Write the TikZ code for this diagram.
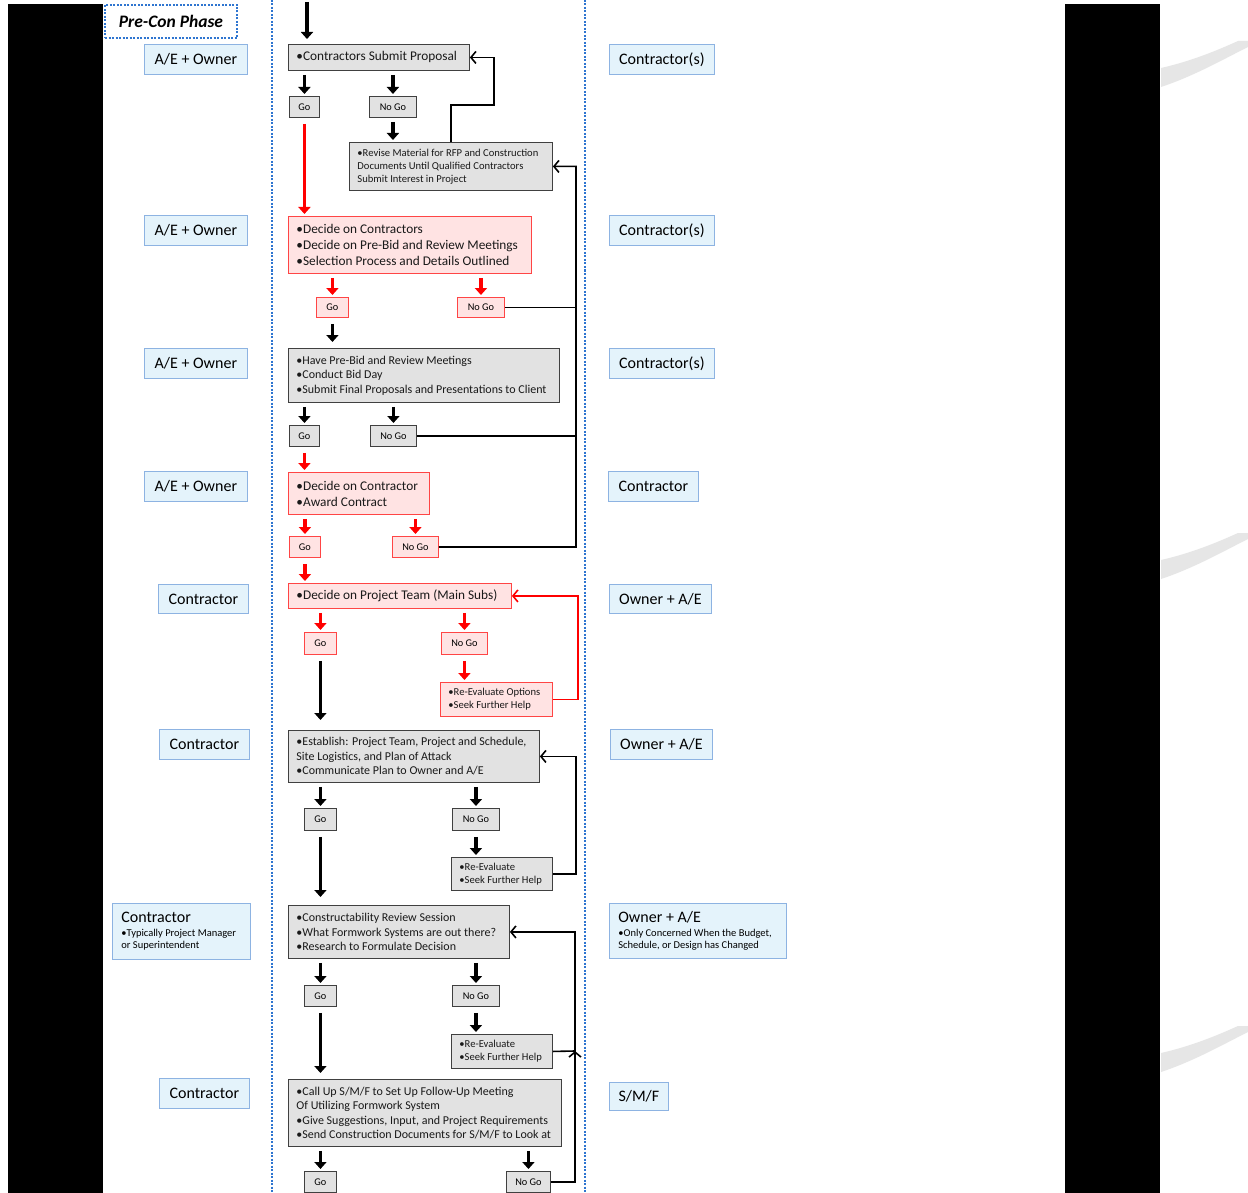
\documentclass[tikz,border=0pt]{standalone}
\usepackage{fontspec}
\setmainfont{Carlito}
\usepackage{xcolor}
\usepackage{tikz}
\usetikzlibrary{arrows.meta, positioning, calc}

\definecolor{boxgray}{HTML}{E2E2E2}
\definecolor{boxpink}{HTML}{FFE3E3}
\definecolor{edgered}{HTML}{FF4545}
\definecolor{rolefill}{HTML}{E4F3FB}
\definecolor{roleedge}{HTML}{8DB3E2}
\definecolor{laneblue}{HTML}{2E75D0}
\definecolor{swoosh}{HTML}{E6E6E6}

\newcommand{\rolefont}{\fontsize{16}{19}\selectfont}
\newcommand{\rolenote}{\fontsize{10.5}{12}\selectfont}
\newcommand{\bigstep}{\fontsize{13.3}{16}\selectfont}
\newcommand{\midstep}{\fontsize{12}{14.5}\selectfont}
\newcommand{\smallstep}{\fontsize{10.6}{13}\selectfont}
\newcommand{\gofont}{\fontsize{10.3}{12}\selectfont}

\begin{document}
\begin{tikzpicture}[x=1pt, y=-1pt,
    graybox/.style={draw=black!75, fill=boxgray, line width=0.9pt, anchor=north west, align=flush left, inner xsep=8pt, inner ysep=0pt, text=black!90},
    redbox/.style={graybox, draw=edgered, fill=boxpink},
    gobox/.style={draw=black!75, fill=boxgray, line width=0.9pt, anchor=north west, inner sep=0pt, font=\gofont},
    redgo/.style={gobox, draw=edgered, fill=boxpink},
    rolebox/.style={draw=roleedge, fill=rolefill, line width=0.8pt, anchor=north west, inner sep=0pt, font=\rolefont},
    blkarrow/.style={line width=3.5pt, -{Triangle[length=7pt,width=12pt]}, shorten <=4pt, shorten >=2pt},
    redarrow/.style={blkarrow, red},
    back/.style={line width=1.6pt, -{Straight Barb[length=5pt,width=12pt]}},
    redback/.style={back, red}
]
    \useasboundingbox (0,0) rectangle (1248,1193);
    \fill[white] (0,0) rectangle (1248,1193);

    % Frame
    \fill[black] (8,4) rectangle (103,1193);
    \fill[black] (1065,4) rectangle (1160,1193);
    \foreach \dy in {0,492,985} {
        \fill[swoosh] (1161,68+\dy) .. controls (1192,61+\dy) and (1218,50+\dy) .. (1238,41+\dy)
            -- (1248,41+\dy) -- (1248,47+\dy)
            .. controls (1222,60+\dy) and (1194,76+\dy) .. (1161,87+\dy) -- cycle;
    }
    \draw[laneblue, line width=2pt, dash pattern=on 2pt off 1.5pt] (272,0) -- (272,1193);
    \draw[laneblue, line width=2pt, dash pattern=on 2pt off 1.5pt] (585,0) -- (585,1193);
    \node[draw=laneblue, line width=2pt, dash pattern=on 2pt off 1.5pt, fill=white, anchor=north west,
        minimum width=132pt, minimum height=33pt, inner sep=0pt,
        font=\fontsize{17.5}{20}\selectfont\bfseries\itshape] (phase) at (104,4) {Pre-Con Phase};

    % Roles, left side
    \node[rolebox, minimum width=103pt, minimum height=30pt] (aeo1) at (144,44) {A/E + Owner};
    \node[rolebox, minimum width=103pt, minimum height=30pt] (aeo2) at (144,215) {A/E + Owner};
    \node[rolebox, minimum width=103pt, minimum height=30pt] (aeo3) at (144,348) {A/E + Owner};
    \node[rolebox, minimum width=103pt, minimum height=30pt] (aeo4) at (144,471) {A/E + Owner};
    \node[rolebox, minimum width=90pt, minimum height=29pt] (gc1) at (158,584) {Contractor};
    \node[rolebox, minimum width=90pt, minimum height=30pt] (gc2) at (159,729) {Contractor};
    \node[rolebox, minimum height=56pt, align=flush left, text width=120pt, inner xsep=9pt] (gc3) at (112,903)
        {Contractor\\[-5pt]{\rolenote •Typically Project Manager}\\[-7pt]{\rolenote or Superintendent}};
    \node[rolebox, minimum width=90pt, minimum height=30pt] (gc4) at (159,1078) {Contractor};

    % Roles, right side
    \node[rolebox, minimum width=105pt, minimum height=30pt] (subs1) at (609,44) {Contractor(s)};
    \node[rolebox, minimum width=105pt, minimum height=30pt] (subs2) at (609,215) {Contractor(s)};
    \node[rolebox, minimum width=105pt, minimum height=30pt] (subs3) at (609,348) {Contractor(s)};
    \node[rolebox, minimum width=90pt, minimum height=30pt] (subs4) at (608,471) {Contractor};
    \node[rolebox, minimum width=102pt, minimum height=29pt] (own1) at (609,584) {Owner + A/E};
    \node[rolebox, minimum width=102pt, minimum height=30pt] (own2) at (610,729) {Owner + A/E};
    \node[rolebox, minimum height=55pt, align=flush left, text width=159pt, inner xsep=9pt] (own3) at (609,903)
        {Owner + A/E\\[-5pt]{\rolenote •Only Concerned When the Budget,}\\[-7pt]{\rolenote Schedule, or Design has Changed}};
    \node[rolebox, minimum width=59pt, minimum height=28pt] (smf) at (609,1082) {S/M/F};

    % Proposal
    \coordinate (start) at (307,2);
    \node[graybox, font=\bigstep, text width=165pt, minimum height=26pt] (submit) at (288,44) {•Contractors Submit Proposal};
    \node[gobox, minimum width=30pt, minimum height=21pt] (go1) at (289,96) {Go};
    \node[gobox, minimum width=47pt, minimum height=21pt] (nogo1) at (369,96) {No Go};
    \node[graybox, font=\smallstep, text width=187pt, minimum height=48pt] (revise) at (349,142)
        {•Revise Material for RFP and Construction\\Documents Until Qualified Contractors\\Submit Interest in Project};

    % Selection
    \node[redbox, font=\bigstep, text width=227pt, minimum height=57pt] (select) at (288,216)
        {•Decide on Contractors\\•Decide on Pre-Bid and Review Meetings\\•Selection Process and Details Outlined};
    \node[redgo, minimum width=32pt, minimum height=20pt] (go2) at (316,297) {Go};
    \node[redgo, minimum width=47pt, minimum height=20pt] (nogo2) at (457,297) {No Go};

    % Bidding
    \node[graybox, font=\midstep, text width=255pt, minimum height=54pt] (bidding) at (288,348)
        {•Have Pre-Bid and Review Meetings\\•Conduct Bid Day\\•Submit Final Proposals and Presentations to Client};
    \node[gobox, minimum width=30pt, minimum height=21pt] (go3) at (289,425) {Go};
    \node[gobox, minimum width=46pt, minimum height=21pt] (nogo3) at (370,425) {No Go};

    % Award
    \node[redbox, font=\bigstep, text width=125pt, minimum height=42pt] (award) at (288,472)
        {•Decide on Contractor\\•Award Contract};
    \node[redgo, minimum width=31pt, minimum height=21pt] (go4) at (289,536) {Go};
    \node[redgo, minimum width=46pt, minimum height=21pt] (nogo4) at (392,536) {No Go};

    % Project team
    \node[redbox, font=\bigstep, text width=207pt, minimum height=25pt] (team) at (288,583)
        {•Decide on Project Team (Main Subs)};
    \node[redgo, minimum width=32pt, minimum height=22pt] (go5) at (304,632) {Go};
    \node[redgo, minimum width=46pt, minimum height=22pt] (nogo5) at (441,632) {No Go};
    \node[redbox, font=\smallstep, text width=96pt, minimum height=34pt] (reeval5) at (440,682)
        {•Re-Evaluate Options\\•Seek Further Help};

    % Establish
    \node[graybox, font=\midstep, text width=235pt, minimum height=52pt] (establish) at (288,730)
        {•Establish: Project Team, Project and Schedule,\\Site Logistics, and Plan of Attack\\•Communicate Plan to Owner and A/E};
    \node[gobox, minimum width=32pt, minimum height=22pt] (go6) at (304,808) {Go};
    \node[gobox, minimum width=47pt, minimum height=22pt] (nogo6) at (452,808) {No Go};
    \node[graybox, font=\smallstep, text width=85pt, minimum height=33pt] (reeval6) at (451,857)
        {•Re-Evaluate\\•Seek Further Help};

    % Constructability review
    \node[graybox, font=\midstep, text width=205pt, minimum height=53pt] (review) at (288,905)
        {•Constructability Review Session\\•What Formwork Systems are out there?\\•Research to Formulate Decision};
    \node[gobox, minimum width=32pt, minimum height=21pt] (go7) at (304,985) {Go};
    \node[gobox, minimum width=47pt, minimum height=21pt] (nogo7) at (452,985) {No Go};
    \node[graybox, font=\smallstep, text width=85pt, minimum height=34pt] (reeval7) at (451,1034)
        {•Re-Evaluate\\•Seek Further Help};

    % Formwork supplier
    \node[graybox, font=\midstep, text width=257pt, minimum height=67pt] (callup) at (288,1079)
        {•Call Up S/M/F to Set Up Follow-Up Meeting\\Of Utilizing Formwork System\\•Give Suggestions, Input, and Project Requirements\\•Send Construction Documents for S/M/F to Look at};
    \node[gobox, minimum width=32pt, minimum height=21pt] (go8) at (304,1171) {Go};
    \node[gobox, minimum width=44pt, minimum height=21pt] (nogo8) at (506,1171) {No Go};

    % Arrows
    \draw[blkarrow, shorten <=0pt, shorten >=5pt] (start) -- (start |- submit.north);
    \draw[blkarrow] (go1 |- submit.south) -- (go1.north);
    \draw[blkarrow] (nogo1 |- submit.south) -- (nogo1.north);
    \draw[blkarrow] (nogo1.south) -- (nogo1 |- revise.north);
    \draw[redarrow, shorten <=6pt] (go1.south) -- (go1 |- select.north);
    \draw[redarrow] (go2 |- select.south) -- (go2.north);
    \draw[redarrow] (nogo2 |- select.south) -- (nogo2.north);
    \draw[blkarrow, shorten <=6pt, shorten >=6pt] (go2.south) -- (go2 |- bidding.north);
    \draw[blkarrow] (go3 |- bidding.south) -- (go3.north);
    \draw[blkarrow] (nogo3 |- bidding.south) -- (nogo3.north);
    \draw[redarrow, shorten <=6pt] (go3.south) -- (go3 |- award.north);
    \draw[redarrow] (go4 |- award.south) -- (go4.north);
    \draw[redarrow] (nogo4 |- award.south) -- (nogo4.north);
    \draw[redarrow, shorten <=6pt] (go4.south) -- (go4 |- team.north);
    \draw[redarrow] (go5 |- team.south) -- (go5.north);
    \draw[redarrow] (nogo5 |- team.south) -- (nogo5.north);
    \draw[redarrow, shorten <=6pt] (nogo5.south) -- (nogo5 |- reeval5.north);
    \draw[blkarrow, shorten <=6pt, shorten >=10pt] (go5.south) -- (go5 |- establish.north);
    \draw[blkarrow] (go6 |- establish.south) -- (go6.north);
    \draw[blkarrow] (nogo6 |- establish.south) -- (nogo6.north);
    \draw[blkarrow, shorten <=6pt] (nogo6.south) -- (nogo6 |- reeval6.north);
    \draw[blkarrow, shorten <=6pt, shorten >=8pt] (go6.south) -- (go6 |- review.north);
    \draw[blkarrow] (go7 |- review.south) -- (go7.north);
    \draw[blkarrow] (nogo7 |- review.south) -- (nogo7.north);
    \draw[blkarrow, shorten <=6pt] (nogo7.south) -- (nogo7 |- reeval7.north);
    \draw[blkarrow, shorten <=6pt, shorten >=6pt] (go7.south) -- (go7 |- callup.north);
    \draw[blkarrow] (go8 |- callup.south) -- (go8.north);
    \draw[blkarrow] (nogo8 |- callup.south) -- (nogo8.north);

    % Loops back
    \draw[back] (revise.north) -- ++(0,-37) -| ([xshift=24pt]submit.east) -- (submit.east);
    \coordinate (trunk) at (576,547);
    \draw[line width=1.6pt] (nogo2.east) -- (nogo2.east -| trunk);
    \draw[line width=1.6pt] (nogo3.east) -- (nogo3.east -| trunk);
    \draw[back] (nogo4.east) -- (trunk) |- (revise.east);
    \draw[redback] (reeval5.east) -- ++(25,0) |- (team.east);
    \draw[back] (reeval6.east) -- ++(23,0) |- (establish.east);
    \coordinate (gjoin) at (575,1051);
    \draw[back] (nogo8.east) -| (gjoin);
    \draw[back] (reeval7.east) -- (gjoin) |- (review.east);
\end{tikzpicture}
\end{document}
